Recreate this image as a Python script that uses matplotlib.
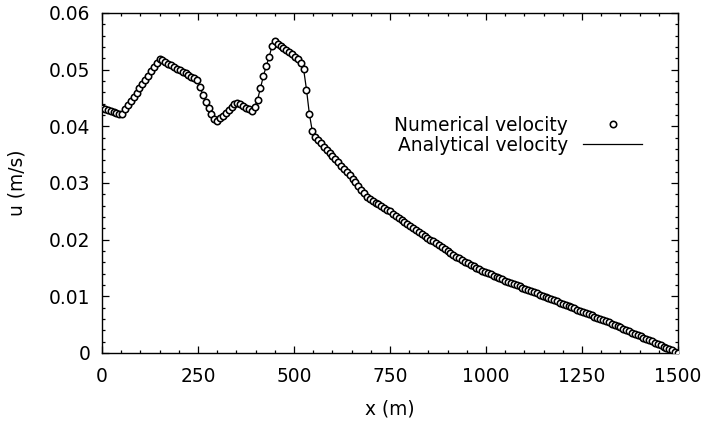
import numpy as np
import matplotlib
matplotlib.use("Agg")
import matplotlib.pyplot as plt
from matplotlib.ticker import MultipleLocator

plt.rcParams['font.family'] = ['DejaVu Sans']

# grid: 201 nodes from 0 to 1500 m (dx = 7.5 m)
x_m = np.linspace(0, 1500, 201)

u_numerical = [
    0.04320, 0.04302, 0.04284, 0.04266, 0.04248, 0.04230, 0.04212, 0.04225, 0.04299, 0.04373,
    0.04448, 0.04522, 0.04596, 0.04670, 0.04745, 0.04819, 0.04893, 0.04968, 0.05042, 0.05116,
    0.05190, 0.05162, 0.05133, 0.05105, 0.05076, 0.05048, 0.05020, 0.04991, 0.04963, 0.04934,
    0.04906, 0.04877, 0.04848, 0.04820, 0.04700, 0.04560, 0.04430, 0.04320, 0.04210, 0.04130,
    0.04090, 0.04140, 0.04189, 0.04239, 0.04288, 0.04338, 0.04388, 0.04418, 0.04390, 0.04360,
    0.04330, 0.04300, 0.04270, 0.04340, 0.04470, 0.04670, 0.04880, 0.05060, 0.05220, 0.05410,
    0.05500, 0.05460, 0.05425, 0.05390, 0.05350, 0.05315, 0.05275, 0.05230, 0.05180, 0.05110,
    0.05010, 0.04650, 0.04220, 0.03920, 0.03810, 0.03754, 0.03698, 0.03642, 0.03586, 0.03530,
    0.03475, 0.03419, 0.03363, 0.03307, 0.03251, 0.03195, 0.03136, 0.03073, 0.03009, 0.02946,
    0.02882, 0.02819, 0.02755, 0.02715, 0.02685, 0.02655, 0.02625, 0.02595, 0.02565, 0.02530,
    0.02500, 0.02460, 0.02420, 0.02382, 0.02346, 0.02311, 0.02276, 0.02241, 0.02206, 0.02172,
    0.02138, 0.02104, 0.02070, 0.02036, 0.02002, 0.01968, 0.01934, 0.01900, 0.01866, 0.01832,
    0.01798, 0.01764, 0.01730, 0.01696, 0.01668, 0.01640, 0.01613, 0.01585, 0.01558, 0.01530,
    0.01503, 0.01475, 0.01448, 0.01430, 0.01408, 0.01386, 0.01364, 0.01342, 0.01320, 0.01298,
    0.01276, 0.01256, 0.01236, 0.01215, 0.01195, 0.01174, 0.01154, 0.01134, 0.01113, 0.01093,
    0.01072, 0.01052, 0.01032, 0.01011, 0.00991, 0.00970, 0.00950, 0.00930, 0.00909, 0.00889,
    0.00868, 0.00848, 0.00827, 0.00807, 0.00787, 0.00766, 0.00746, 0.00725, 0.00705, 0.00685,
    0.00664, 0.00644, 0.00623, 0.00603, 0.00583, 0.00562, 0.00541, 0.00518, 0.00496, 0.00473,
    0.00451, 0.00428, 0.00406, 0.00383, 0.00361, 0.00338, 0.00316, 0.00293, 0.00271, 0.00248,
    0.00226, 0.00203, 0.00181, 0.00158, 0.00136, 0.00113, 0.00091, 0.00068, 0.00046, 0.00023,
    0.00000,
]
u_analytical = list(u_numerical)

x_ticks = [0, 250, 500, 750, 1000, 1250, 1500]
y_ticks = [0, 0.01, 0.02, 0.03, 0.04, 0.05, 0.06]
y_tick_labels = ['0', '0.01', '0.02', '0.03', '0.04', '0.05', '0.06']

FS = 13.4

fig = plt.figure(figsize=(7.05, 4.22), dpi=100)
ax = fig.add_axes([102/705, 1-353/422, (678-102)/705, (353-13)/422])

ax.plot(x_m, u_analytical, color='black', lw=0.9, label='Analytical velocity', zorder=2)
ax.plot(x_m, u_numerical, linestyle='none', marker='o', markersize=4.6,
        markerfacecolor='white', markeredgecolor='black', markeredgewidth=1.15,
        label='Numerical velocity', zorder=3)

ax.set_xlim(0, 1500)
ax.set_ylim(0, 0.06)
ax.set_xticks(x_ticks)
ax.set_xticklabels([str(t) for t in x_ticks])
ax.set_yticks(y_ticks)
ax.set_yticklabels(y_tick_labels)
ax.xaxis.set_minor_locator(MultipleLocator(50))
ax.yaxis.set_minor_locator(MultipleLocator(0.002))
ax.tick_params(which='both', direction='in', top=True, right=True, labelsize=FS, width=0.9)
ax.tick_params(which='major', length=5)
ax.tick_params(which='minor', length=2.5)
ax.tick_params(axis='y', which='major', pad=8.5)
ax.tick_params(axis='x', which='major', pad=10)
for s in ax.spines.values():
    s.set_linewidth(1.0)

ax.set_xlabel('x (m)', fontsize=FS, labelpad=10)
ax.set_ylabel('u (m/s)', fontsize=FS, labelpad=16)

h, l = ax.get_legend_handles_labels()
leg = ax.legend(h[::-1], l[::-1], loc='upper right', frameon=False, fontsize=FS,
                markerfirst=False, handlelength=3.17, handletextpad=0.8,
                labelspacing=0.03, borderpad=0, borderaxespad=0,
                bbox_to_anchor=(642/705, 1-116/422), bbox_transform=fig.transFigure)

fig.savefig('out.png', dpi=100)
